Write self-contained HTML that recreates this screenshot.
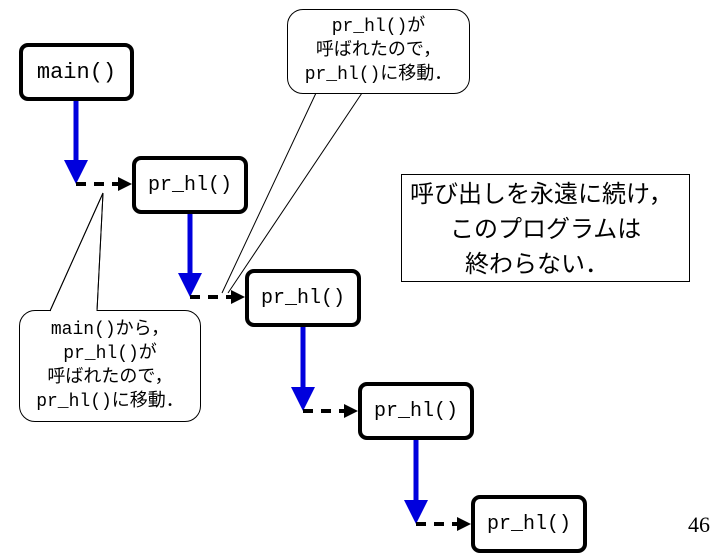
<!DOCTYPE html>
<html><head><meta charset="utf-8"><style>
body{margin:0;width:720px;height:540px;overflow:hidden;background:#fff;position:relative;font-family:"Liberation Mono","Noto Sans CJK JP",monospace}
.b{position:absolute;box-sizing:border-box;border:4px solid #000;border-radius:9px;background:#fff;display:flex;align-items:center;justify-content:center;font-size:20px}
.c{position:absolute;box-sizing:border-box;border:1px solid #000;border-radius:16px;background:#fff;text-align:center;font-size:17px;line-height:24px;font-family:"Liberation Mono","Noto Sans CJK JP",monospace}
</style></head><body>
<svg width="720" height="540" style="position:absolute;left:0;top:0">
<g stroke="#0000dd" stroke-width="5">
<line x1="76" y1="100" x2="76" y2="162"/><line x1="190" y1="213" x2="190" y2="275"/><line x1="303" y1="327" x2="303" y2="389"/><line x1="416" y1="440" x2="416" y2="502"/>
</g>
<g fill="#0000dd">
<polygon points="64,160 88,160 76,184"/><polygon points="178,273 202,273 190,297"/><polygon points="291,387 315,387 303,411"/><polygon points="404,500 428,500 416,524"/>
</g>
<g stroke="#000" stroke-width="4" stroke-dasharray="10,8">
<line x1="76" y1="184" x2="118" y2="184"/><line x1="190" y1="297" x2="231" y2="297"/><line x1="303" y1="411" x2="344" y2="411"/><line x1="416" y1="524" x2="457" y2="524"/>
</g>
<g fill="#000">
<polygon points="118,177 132,184 118,191"/><polygon points="231,290 245,297 231,304"/><polygon points="344,404 358,411 344,418"/><polygon points="457,517 471,524 457,531"/>
</g>
<g stroke="#000" stroke-width="1" fill="none">
<line x1="316" y1="93" x2="222" y2="293"/><line x1="362" y1="93" x2="228" y2="293"/>
<line x1="50" y1="311" x2="103" y2="193"/><line x1="97" y1="311" x2="103" y2="193"/>
</g>
<rect x="401.5" y="174.5" width="288" height="107" fill="#fff" stroke="#000" stroke-width="1"/>
</svg>
<div class="b" style="left:19px;top:43px;width:115px;height:58px;font-size:22px">main()</div>
<div class="b" style="left:132px;top:156px;width:116px;height:58px">pr_hl()</div>
<div class="b" style="left:245px;top:269px;width:116px;height:58px">pr_hl()</div>
<div class="b" style="left:358px;top:382px;width:116px;height:58px">pr_hl()</div>
<div class="b" style="left:471px;top:495px;width:116px;height:58px">pr_hl()</div>
<div class="c" style="left:287px;top:9px;width:183px;height:85px;padding-top:5px;font-size:18px">pr_hl()が<br>呼ばれたので，<br>pr_hl()に移動．</div>
<div class="c" style="left:19px;top:310px;width:182px;height:112px;padding-top:7px;font-size:18px">main()から，<br>pr_hl()が<br>呼ばれたので，<br>pr_hl()に移動．</div>
<div style="position:absolute;left:51px;top:309px;width:46px;height:3px;background:#fff"></div>
<svg width="720" height="540" style="position:absolute;left:0;top:0"><line x1="50" y1="311" x2="103" y2="193" stroke="#000"/><line x1="97" y1="311" x2="103" y2="193" stroke="#000"/></svg>
<div style="position:absolute;left:410px;top:177px;width:287px;font-family:'Liberation Sans','Noto Sans CJK JP',sans-serif;font-size:24px;line-height:35px;white-space:nowrap">呼び出しを永遠に続け，<br><span style="margin-left:40px">このプログラムは</span><br><span style="margin-left:55px">終わらない．</span></div>
<div style="position:absolute;left:688px;top:512px;font-family:'Liberation Serif',serif;font-size:22px">46</div>
</body></html>
